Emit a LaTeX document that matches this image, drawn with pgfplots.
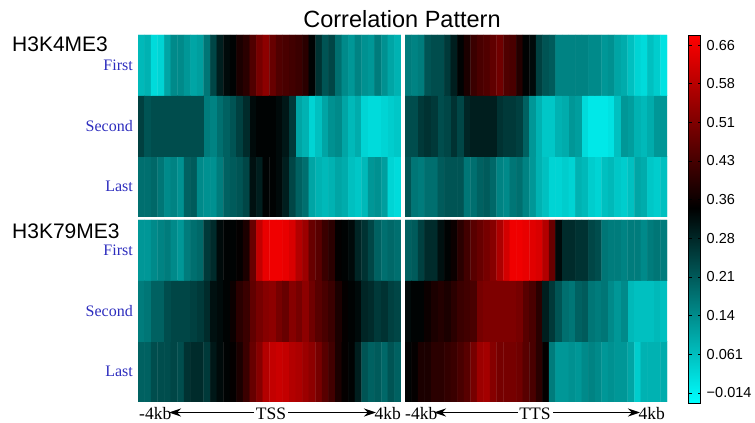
\documentclass[border=0pt]{standalone}
\usepackage{pgfplots}
\pgfplotsset{compat=1.18}
\usepackage{pgfplotstable}
\usepackage{fontspec}
\setmainfont{Liberation Serif}
\newfontfamily\sansf{Liberation Sans}
\usetikzlibrary{arrows.meta}
\definecolor{lblue}{RGB}{45,45,190}

% heat-map cells: x = bin centre (40 bins from -4kb to 4kb), y = row (0.5 Last, 1.5 Second, 2.5 First), c = correlation
\pgfplotstableread[row sep=\\]{
x y c\\
0.5 0.5 0.18\\ 1.5 0.5 0.18\\ 2.5 0.5 0.19\\ 3.5 0.5 0.17\\ 4.5 0.5 0.14\\ 5.5 0.5 0.15\\ 6.5 0.5 0.13\\ 7.5 0.5 0.20\\ 8.5 0.5 0.21\\ 9.5 0.5 0.14\\
10.5 0.5 0.13\\ 11.5 0.5 0.13\\ 12.5 0.5 0.16\\ 13.5 0.5 0.20\\ 14.5 0.5 0.21\\ 15.5 0.5 0.22\\ 16.5 0.5 0.24\\ 17.5 0.5 0.32\\ 18.5 0.5 0.30\\ 19.5 0.5 0.34\\
20.5 0.5 0.34\\ 21.5 0.5 0.33\\ 22.5 0.5 0.30\\ 23.5 0.5 0.24\\ 24.5 0.5 0.20\\ 25.5 0.5 0.18\\ 26.5 0.5 0.10\\ 27.5 0.5 0.08\\ 28.5 0.5 0.07\\ 29.5 0.5 0.08\\
30.5 0.5 0.10\\ 31.5 0.5 0.09\\ 32.5 0.5 0.06\\ 33.5 0.5 0.05\\ 34.5 0.5 0.07\\ 35.5 0.5 0.12\\ 36.5 0.5 0.13\\ 37.5 0.5 0.11\\ 38.5 0.5 0.03\\ 39.5 0.5 0.02\\
0.5 1.5 0.25\\ 1.5 1.5 0.22\\ 2.5 1.5 0.23\\ 3.5 1.5 0.23\\ 4.5 1.5 0.23\\ 5.5 1.5 0.23\\ 6.5 1.5 0.23\\ 7.5 1.5 0.23\\ 8.5 1.5 0.23\\ 9.5 1.5 0.23\\
10.5 1.5 0.16\\ 11.5 1.5 0.15\\ 12.5 1.5 0.18\\ 13.5 1.5 0.20\\ 14.5 1.5 0.22\\ 15.5 1.5 0.25\\ 16.5 1.5 0.28\\ 17.5 1.5 0.33\\ 18.5 1.5 0.34\\ 19.5 1.5 0.34\\
20.5 1.5 0.34\\ 21.5 1.5 0.33\\ 22.5 1.5 0.31\\ 23.5 1.5 0.26\\ 24.5 1.5 0.10\\ 25.5 1.5 0.08\\ 26.5 1.5 0.03\\ 27.5 1.5 0.06\\ 28.5 1.5 0.10\\ 29.5 1.5 0.13\\
30.5 1.5 0.14\\ 31.5 1.5 0.10\\ 32.5 1.5 0.07\\ 33.5 1.5 0.09\\ 34.5 1.5 0.03\\ 35.5 1.5 0.02\\ 36.5 1.5 0.02\\ 37.5 1.5 0.03\\ 38.5 1.5 0.04\\ 39.5 1.5 0.05\\
0.5 2.5 0.07\\ 1.5 2.5 0.08\\ 2.5 2.5 0.02\\ 3.5 2.5 0.03\\ 4.5 2.5 0.10\\ 5.5 2.5 0.14\\ 6.5 2.5 0.14\\ 7.5 2.5 0.12\\ 8.5 2.5 0.10\\ 9.5 2.5 0.11\\
10.5 2.5 0.17\\ 11.5 2.5 0.24\\ 12.5 2.5 0.30\\ 13.5 2.5 0.33\\ 14.5 2.5 0.34\\ 15.5 2.5 0.38\\ 16.5 2.5 0.40\\ 17.5 2.5 0.45\\ 18.5 2.5 0.50\\ 19.5 2.5 0.53\\
20.5 2.5 0.48\\ 21.5 2.5 0.45\\ 22.5 2.5 0.44\\ 23.5 2.5 0.43\\ 24.5 2.5 0.42\\ 25.5 2.5 0.40\\ 26.5 2.5 0.34\\ 27.5 2.5 0.27\\ 28.5 2.5 0.22\\ 29.5 2.5 0.24\\
30.5 2.5 0.18\\ 31.5 2.5 0.14\\ 32.5 2.5 0.12\\ 33.5 2.5 0.15\\ 34.5 2.5 0.13\\ 35.5 2.5 0.12\\ 36.5 2.5 0.16\\ 37.5 2.5 0.13\\ 38.5 2.5 0.10\\ 39.5 2.5 0.08\\
}\tblTL

\pgfplotstableread[row sep=\\]{
x y c\\
0.5 0.5 0.22\\ 1.5 0.5 0.17\\ 2.5 0.5 0.16\\ 3.5 0.5 0.18\\ 4.5 0.5 0.18\\ 5.5 0.5 0.21\\ 6.5 0.5 0.22\\ 7.5 0.5 0.22\\ 8.5 0.5 0.22\\ 9.5 0.5 0.17\\
10.5 0.5 0.18\\ 11.5 0.5 0.20\\ 12.5 0.5 0.21\\ 13.5 0.5 0.19\\ 14.5 0.5 0.15\\ 15.5 0.5 0.14\\ 16.5 0.5 0.17\\ 17.5 0.5 0.18\\ 18.5 0.5 0.15\\ 19.5 0.5 0.12\\
20.5 0.5 0.08\\ 21.5 0.5 0.06\\ 22.5 0.5 0.03\\ 23.5 0.5 0.03\\ 24.5 0.5 0.04\\ 25.5 0.5 0.03\\ 26.5 0.5 0.08\\ 27.5 0.5 0.07\\ 28.5 0.5 0.04\\ 29.5 0.5 0.03\\
30.5 0.5 0.06\\ 31.5 0.5 0.07\\ 32.5 0.5 0.05\\ 33.5 0.5 0.04\\ 34.5 0.5 0.06\\ 35.5 0.5 0.10\\ 36.5 0.5 0.09\\ 37.5 0.5 0.05\\ 38.5 0.5 0.04\\ 39.5 0.5 0.06\\
0.5 1.5 0.23\\ 1.5 1.5 0.23\\ 2.5 1.5 0.26\\ 3.5 1.5 0.27\\ 4.5 1.5 0.26\\ 5.5 1.5 0.23\\ 6.5 1.5 0.24\\ 7.5 1.5 0.27\\ 8.5 1.5 0.24\\ 9.5 1.5 0.29\\
10.5 1.5 0.30\\ 11.5 1.5 0.30\\ 12.5 1.5 0.30\\ 13.5 1.5 0.30\\ 14.5 1.5 0.27\\ 15.5 1.5 0.26\\ 16.5 1.5 0.26\\ 17.5 1.5 0.25\\ 18.5 1.5 0.20\\ 19.5 1.5 0.12\\
20.5 1.5 0.08\\ 21.5 1.5 0.05\\ 22.5 1.5 0.05\\ 23.5 1.5 0.08\\ 24.5 1.5 0.09\\ 25.5 1.5 0.12\\ 26.5 1.5 0.11\\ 27.5 1.5 0.02\\ 28.5 1.5 0.00\\ 29.5 1.5 0.00\\
30.5 1.5 0.00\\ 31.5 1.5 0.01\\ 32.5 1.5 0.06\\ 33.5 1.5 0.12\\ 34.5 1.5 0.11\\ 35.5 1.5 0.08\\ 36.5 1.5 0.07\\ 37.5 1.5 0.09\\ 38.5 1.5 0.12\\ 39.5 1.5 0.12\\
0.5 2.5 0.16\\ 1.5 2.5 0.15\\ 2.5 2.5 0.16\\ 3.5 2.5 0.22\\ 4.5 2.5 0.23\\ 5.5 2.5 0.23\\ 6.5 2.5 0.26\\ 7.5 2.5 0.30\\ 8.5 2.5 0.34\\ 9.5 2.5 0.38\\
10.5 2.5 0.42\\ 11.5 2.5 0.44\\ 12.5 2.5 0.45\\ 13.5 2.5 0.47\\ 14.5 2.5 0.49\\ 15.5 2.5 0.45\\ 16.5 2.5 0.44\\ 17.5 2.5 0.39\\ 18.5 2.5 0.34\\ 19.5 2.5 0.33\\
20.5 2.5 0.25\\ 21.5 2.5 0.22\\ 22.5 2.5 0.21\\ 23.5 2.5 0.15\\ 24.5 2.5 0.15\\ 25.5 2.5 0.15\\ 26.5 2.5 0.15\\ 27.5 2.5 0.15\\ 28.5 2.5 0.14\\ 29.5 2.5 0.14\\
30.5 2.5 0.12\\ 31.5 2.5 0.13\\ 32.5 2.5 0.10\\ 33.5 2.5 0.09\\ 34.5 2.5 0.06\\ 35.5 2.5 0.03\\ 36.5 2.5 0.02\\ 37.5 2.5 0.06\\ 38.5 2.5 0.04\\ 39.5 2.5 0.01\\
}\tblTR

\pgfplotstableread[row sep=\\]{
x y c\\
0.5 0.5 0.20\\ 1.5 0.5 0.20\\ 2.5 0.5 0.23\\ 3.5 0.5 0.23\\ 4.5 0.5 0.23\\ 5.5 0.5 0.24\\ 6.5 0.5 0.23\\ 7.5 0.5 0.27\\ 8.5 0.5 0.28\\ 9.5 0.5 0.28\\
10.5 0.5 0.26\\ 11.5 0.5 0.31\\ 12.5 0.5 0.33\\ 13.5 0.5 0.34\\ 14.5 0.5 0.35\\ 15.5 0.5 0.38\\ 16.5 0.5 0.42\\ 17.5 0.5 0.48\\ 18.5 0.5 0.52\\ 19.5 0.5 0.58\\
20.5 0.5 0.60\\ 21.5 0.5 0.61\\ 22.5 0.5 0.60\\ 23.5 0.5 0.58\\ 24.5 0.5 0.57\\ 25.5 0.5 0.55\\ 26.5 0.5 0.53\\ 27.5 0.5 0.50\\ 28.5 0.5 0.46\\ 29.5 0.5 0.43\\
30.5 0.5 0.38\\ 31.5 0.5 0.35\\ 32.5 0.5 0.34\\ 33.5 0.5 0.30\\ 34.5 0.5 0.22\\ 35.5 0.5 0.20\\ 36.5 0.5 0.21\\ 37.5 0.5 0.19\\ 38.5 0.5 0.22\\ 39.5 0.5 0.20\\
0.5 1.5 0.16\\ 1.5 1.5 0.17\\ 2.5 1.5 0.20\\ 3.5 1.5 0.20\\ 4.5 1.5 0.23\\ 5.5 1.5 0.24\\ 6.5 1.5 0.24\\ 7.5 1.5 0.24\\ 8.5 1.5 0.25\\ 9.5 1.5 0.26\\
10.5 1.5 0.28\\ 11.5 1.5 0.32\\ 12.5 1.5 0.33\\ 13.5 1.5 0.34\\ 14.5 1.5 0.36\\ 15.5 1.5 0.40\\ 16.5 1.5 0.42\\ 17.5 1.5 0.47\\ 18.5 1.5 0.50\\ 19.5 1.5 0.52\\
20.5 1.5 0.53\\ 21.5 1.5 0.50\\ 22.5 1.5 0.48\\ 23.5 1.5 0.52\\ 24.5 1.5 0.50\\ 25.5 1.5 0.53\\ 26.5 1.5 0.49\\ 27.5 1.5 0.46\\ 28.5 1.5 0.44\\ 29.5 1.5 0.42\\
30.5 1.5 0.38\\ 31.5 1.5 0.35\\ 32.5 1.5 0.34\\ 33.5 1.5 0.33\\ 34.5 1.5 0.29\\ 35.5 1.5 0.28\\ 36.5 1.5 0.26\\ 37.5 1.5 0.27\\ 38.5 1.5 0.25\\ 39.5 1.5 0.24\\
0.5 2.5 0.12\\ 1.5 2.5 0.12\\ 2.5 2.5 0.14\\ 3.5 2.5 0.15\\ 4.5 2.5 0.16\\ 5.5 2.5 0.14\\ 6.5 2.5 0.12\\ 7.5 2.5 0.16\\ 8.5 2.5 0.18\\ 9.5 2.5 0.19\\
10.5 2.5 0.26\\ 11.5 2.5 0.28\\ 12.5 2.5 0.33\\ 13.5 2.5 0.34\\ 14.5 2.5 0.34\\ 15.5 2.5 0.35\\ 16.5 2.5 0.38\\ 17.5 2.5 0.48\\ 18.5 2.5 0.60\\ 19.5 2.5 0.65\\
20.5 2.5 0.66\\ 21.5 2.5 0.66\\ 22.5 2.5 0.65\\ 23.5 2.5 0.63\\ 24.5 2.5 0.58\\ 25.5 2.5 0.55\\ 26.5 2.5 0.48\\ 27.5 2.5 0.46\\ 28.5 2.5 0.42\\ 29.5 2.5 0.40\\
30.5 2.5 0.35\\ 31.5 2.5 0.34\\ 32.5 2.5 0.33\\ 33.5 2.5 0.29\\ 34.5 2.5 0.27\\ 35.5 2.5 0.24\\ 36.5 2.5 0.20\\ 37.5 2.5 0.18\\ 38.5 2.5 0.19\\ 39.5 2.5 0.18\\
}\tblBL

\pgfplotstableread[row sep=\\]{
x y c\\
0.5 0.5 0.34\\ 1.5 0.5 0.35\\ 2.5 0.5 0.38\\ 3.5 0.5 0.38\\ 4.5 0.5 0.40\\ 5.5 0.5 0.40\\ 6.5 0.5 0.41\\ 7.5 0.5 0.42\\ 8.5 0.5 0.44\\ 9.5 0.5 0.46\\
10.5 0.5 0.50\\ 11.5 0.5 0.55\\ 12.5 0.5 0.56\\ 13.5 0.5 0.52\\ 14.5 0.5 0.50\\ 15.5 0.5 0.50\\ 16.5 0.5 0.50\\ 17.5 0.5 0.49\\ 18.5 0.5 0.46\\ 19.5 0.5 0.44\\
20.5 0.5 0.40\\ 21.5 0.5 0.35\\ 22.5 0.5 0.16\\ 23.5 0.5 0.12\\ 24.5 0.5 0.12\\ 25.5 0.5 0.13\\ 26.5 0.5 0.12\\ 27.5 0.5 0.14\\ 28.5 0.5 0.15\\ 29.5 0.5 0.14\\
30.5 0.5 0.12\\ 31.5 0.5 0.13\\ 32.5 0.5 0.12\\ 33.5 0.5 0.12\\ 34.5 0.5 0.10\\ 35.5 0.5 0.04\\ 36.5 0.5 0.08\\ 37.5 0.5 0.08\\ 38.5 0.5 0.08\\ 39.5 0.5 0.09\\
0.5 1.5 0.33\\ 1.5 1.5 0.34\\ 2.5 1.5 0.34\\ 3.5 1.5 0.36\\ 4.5 1.5 0.38\\ 5.5 1.5 0.39\\ 6.5 1.5 0.38\\ 7.5 1.5 0.40\\ 8.5 1.5 0.42\\ 9.5 1.5 0.43\\
10.5 1.5 0.44\\ 11.5 1.5 0.50\\ 12.5 1.5 0.51\\ 13.5 1.5 0.51\\ 14.5 1.5 0.51\\ 15.5 1.5 0.51\\ 16.5 1.5 0.51\\ 17.5 1.5 0.50\\ 18.5 1.5 0.46\\ 19.5 1.5 0.44\\
20.5 1.5 0.40\\ 21.5 1.5 0.30\\ 22.5 1.5 0.26\\ 23.5 1.5 0.22\\ 24.5 1.5 0.18\\ 25.5 1.5 0.17\\ 26.5 1.5 0.20\\ 27.5 1.5 0.21\\ 28.5 1.5 0.17\\ 29.5 1.5 0.16\\
30.5 1.5 0.17\\ 31.5 1.5 0.14\\ 32.5 1.5 0.12\\ 33.5 1.5 0.14\\ 34.5 1.5 0.07\\ 35.5 1.5 0.06\\ 36.5 1.5 0.06\\ 37.5 1.5 0.06\\ 38.5 1.5 0.07\\ 39.5 1.5 0.06\\
0.5 2.5 0.20\\ 1.5 2.5 0.21\\ 2.5 2.5 0.25\\ 3.5 2.5 0.28\\ 4.5 2.5 0.28\\ 5.5 2.5 0.32\\ 6.5 2.5 0.34\\ 7.5 2.5 0.36\\ 8.5 2.5 0.40\\ 9.5 2.5 0.43\\
10.5 2.5 0.46\\ 11.5 2.5 0.48\\ 12.5 2.5 0.50\\ 13.5 2.5 0.52\\ 14.5 2.5 0.57\\ 15.5 2.5 0.62\\ 16.5 2.5 0.66\\ 17.5 2.5 0.66\\ 18.5 2.5 0.65\\ 19.5 2.5 0.64\\
20.5 2.5 0.63\\ 21.5 2.5 0.58\\ 22.5 2.5 0.48\\ 23.5 2.5 0.33\\ 24.5 2.5 0.28\\ 25.5 2.5 0.28\\ 26.5 2.5 0.27\\ 27.5 2.5 0.27\\ 28.5 2.5 0.24\\ 29.5 2.5 0.23\\
30.5 2.5 0.17\\ 31.5 2.5 0.16\\ 32.5 2.5 0.16\\ 33.5 2.5 0.15\\ 34.5 2.5 0.16\\ 35.5 2.5 0.16\\ 36.5 2.5 0.14\\ 37.5 2.5 0.16\\ 38.5 2.5 0.17\\ 39.5 2.5 0.16\\
}\tblBR

\pgfplotsset{
  hm/.style={
    scale only axis, height=182pt,
    xmin=0, xmax=40, ymin=0, ymax=3, enlargelimits=false,
    axis line style={draw=none}, tick style={draw=none},
    xtick=\empty, ytick=\empty,
    colormap={cb}{rgb255(0cm)=(0,255,255) rgb255(53cm)=(0,0,0) rgb255(100cm)=(255,0,0)},
    point meta min=-0.0334, point meta max=0.6794,
  },
  rowlab/.style={
    ytick={0.5,1.5,2.5}, yticklabels={Last,Second,First},
    major tick length=0pt,
    yticklabel style={text=lblue, inner sep=0pt, anchor=east, xshift=-5pt,
      font=\fontsize{16}{16}\selectfont},
  },
}

\begin{document}
\begin{tikzpicture}
\useasboundingbox (0,0) rectangle (755pt,423pt);

\begin{axis}[hm, rowlab, width=263pt, at={(138pt,206pt)}, anchor=south west]
\addplot[matrix plot*, mesh/cols=40, point meta=explicit] table[x=x, y=y, meta=c]{\tblTL};
\end{axis}

\begin{axis}[hm, width=262pt, at={(405pt,206pt)}, anchor=south west,
  colorbar,
  colorbar style={
    at={(parent axis.north east)}, anchor=north west, xshift=13pt,
    scale only axis, width=12pt, height=368pt,
    axis line style={draw=black, line width=0.7pt},
    tick style={draw=black, line width=0.6pt},
    ytick={-0.014,0.06089,0.13578,0.21067,0.28556,0.36044,0.43533,0.51022,0.58511,0.66},
    yticklabels={−0.014,0.061,0.14,0.21,0.28,0.36,0.43,0.51,0.58,0.66},
    tick align=inside, major tick length=3pt,
    yticklabel style={font=\sansf\fontsize{14.5}{14.5}\selectfont, inner sep=0pt, anchor=west, xshift=6pt},
  }]
\addplot[matrix plot*, mesh/cols=40, point meta=explicit] table[x=x, y=y, meta=c]{\tblTR};
\end{axis}

\begin{axis}[hm, rowlab, width=263pt, at={(138pt,21pt)}, anchor=south west]
\addplot[matrix plot*, mesh/cols=40, point meta=explicit] table[x=x, y=y, meta=c]{\tblBL};
\end{axis}

\begin{axis}[hm, width=262pt, at={(405pt,21pt)}, anchor=south west]
\addplot[matrix plot*, mesh/cols=40, point meta=explicit] table[x=x, y=y, meta=c]{\tblBR};
\end{axis}

% titles and group labels
\node[anchor=base, inner sep=0pt, font=\sansf\fontsize{23.5}{24}\selectfont] at (402pt,395pt) {Correlation Pattern};
\node[anchor=base west, inner sep=0pt, font=\sansf\fontsize{21}{21}\selectfont] at (12pt,371pt) {H3K4ME3};
\node[anchor=base west, inner sep=0pt, font=\sansf\fontsize{21}{21}\selectfont] at (12pt,184pt) {H3K79ME3};

% bottom annotations
\begin{scope}[font=\fontsize{17.5}{17.5}\selectfont]
\node[anchor=base west, inner sep=0pt] at (139pt,3.5pt) {-4kb};
\node[anchor=base, inner sep=0pt] at (271pt,3.5pt) {TSS};
\node[anchor=base east, inner sep=0pt] at (401pt,3.5pt) {4kb};
\draw[line width=1.4pt, -{Stealth[length=12pt,width=8pt]}] (254pt,10.5pt) -- (169pt,10.5pt);
\draw[line width=1.4pt, -{Stealth[length=12pt,width=8pt]}] (288pt,10.5pt) -- (376pt,10.5pt);
\node[anchor=base west, inner sep=0pt] at (405pt,3.5pt) {-4kb};
\node[anchor=base, inner sep=0pt] at (535pt,3.5pt) {TTS};
\node[anchor=base east, inner sep=0pt] at (665pt,3.5pt) {4kb};
\draw[line width=1.4pt, -{Stealth[length=12pt,width=8pt]}] (518pt,10.5pt) -- (434pt,10.5pt);
\draw[line width=1.4pt, -{Stealth[length=12pt,width=8pt]}] (553pt,10.5pt) -- (640pt,10.5pt);
\end{scope}
\end{tikzpicture}
\end{document}
